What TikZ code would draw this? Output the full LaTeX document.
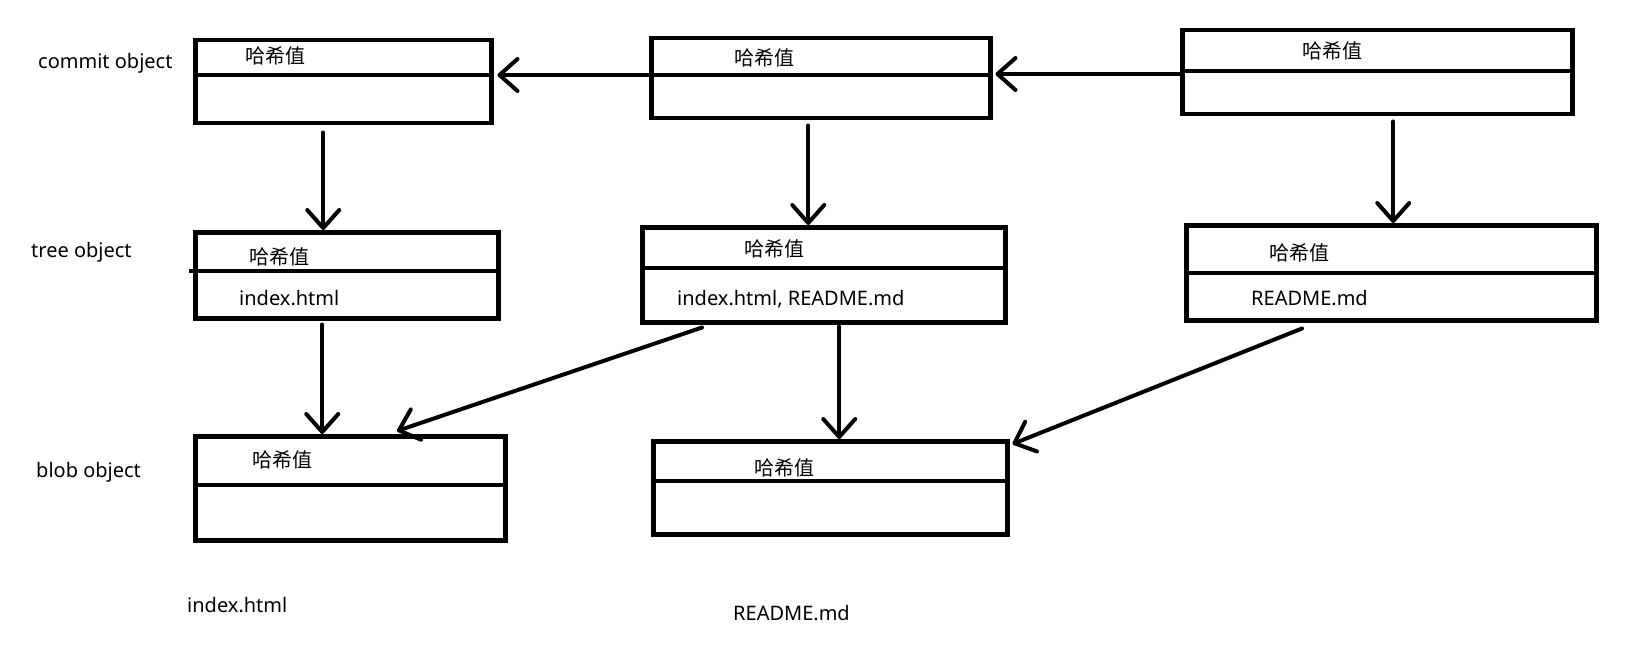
\documentclass[tikz,border=0pt]{standalone}
\usepackage{fontspec}
\setmainfont{Noto Sans}
\newfontfamily\cjk{Noto Sans CJK SC}
\usetikzlibrary{arrows.meta}

\begin{document}
\begin{tikzpicture}
[ob/.style={draw,line width=4.5pt,anchor=north west,inner sep=0pt}
,dv/.style={draw,line width=4.5pt}
,tx/.style={anchor=west,inner sep=0pt,font=\fontsize{20pt}{24pt}\selectfont}
,hv/.style={tx,font=\cjk\fontsize{20pt}{24pt}\selectfont}
,ae/.style={draw,line width=4pt,line cap=round,arrows={-Straight Barb[length=18pt,width=32pt,round]}}
,x=1pt,y=-1pt]
\useasboundingbox (0,0) rectangle (1632,647);
% commit objects
\node[ob,minimum width=296pt,minimum height=83pt] (c1) at (193,38) {};
\node[ob,minimum width=339pt,minimum height=80pt] (c2) at (649,36) {};
\node[ob,minimum width=390pt,minimum height=84pt] (c3) at (1180,28) {};
% tree objects
\node[ob,minimum width=303pt,minimum height=86pt] (t1) at (193,230) {};
\node[ob,minimum width=363pt,minimum height=95pt] (t2) at (640,225) {};
\node[ob,minimum width=410pt,minimum height=95pt] (t3) at (1184,223) {};
% blob objects
\node[ob,minimum width=310pt,minimum height=104pt] (b1) at (193,434) {};
\node[ob,minimum width=354pt,minimum height=93pt] (b2) at (651,439) {};
% dividers
\draw[dv] ([yshift=-37pt]c1.north west) -- ([yshift=-37pt]c1.north east);
\draw[dv] ([yshift=-39pt]c2.north west) -- ([yshift=-39pt]c2.north east);
\draw[dv] ([yshift=-43pt]c3.north west) -- ([yshift=-43pt]c3.north east);
\draw[dv] ([xshift=-4pt,yshift=-41pt]t1.north west) -- ([yshift=-41pt]t1.north east);
\draw[dv] ([yshift=-43pt]t2.north west) -- ([yshift=-43pt]t2.north east);
\draw[dv] ([yshift=-50pt]t3.north west) -- ([yshift=-50pt]t3.north east);
\draw[dv] ([yshift=-51pt]b1.north west) -- ([yshift=-51pt]b1.north east);
\draw[dv] ([yshift=-42pt]b2.north west) -- ([yshift=-42pt]b2.north east);
% texts
\node[hv] (h1) at (245,56) {哈希值};
\node[hv] (h2) at (734,58) {哈希值};
\node[hv] (h3) at (1302,51) {哈希值};
\node[hv] (h4) at (249,257) {哈希值};
\node[hv] (h5) at (744,249) {哈希值};
\node[hv] (h6) at (1269,253) {哈希值};
\node[hv] (h7) at (252,460) {哈希值};
\node[hv] (h8) at (754,468) {哈希值};
\node[tx] (f1) at (239,298) {index.html};
\node[tx] (f2) at (677,299) {index.html, README.md};
\node[tx] (f3) at (1251,298) {README.md};
\node[tx] (lc) at (38,63) {commit object};
\node[tx] (lt) at (31,252) {tree object};
\node[tx] (lb) at (36,472) {blob object};
\node[tx] (n1) at (187,605) {index.html};
\node[tx] (n2) at (733,613) {README.md};
% arrows
\draw[ae] ([yshift=-39pt]c2.north west) -- ([xshift=4pt,yshift=-37pt]c1.north east);
\draw[ae] ([yshift=-46pt]c3.north west) -- ([xshift=3pt,yshift=-38pt]c2.north east);
\draw[ae] ([xshift=-20pt,yshift=-7pt]c1.south) -- ([xshift=-23.5pt]t1.north);
\draw[ae] ([xshift=-12.5pt,yshift=-5pt]c2.south) -- ([xshift=-15.5pt]t2.north);
\draw[ae] ([xshift=16pt,yshift=-5pt]c3.south) -- ([xshift=2pt]t3.north);
\draw[ae] ([xshift=-24.5pt,yshift=-4pt]t1.south) -- ([xshift=-28pt]b1.north);
\draw[ae] ([xshift=15.5pt,yshift=-2pt]t2.south) -- ([xshift=9pt]b2.north);
\draw[ae] ([xshift=62pt,yshift=-3pt]t2.south west) -- ([xshift=204pt,yshift=3pt]b1.north west);
\draw[ae] ([xshift=118pt,yshift=-6pt]t3.south west) -- ([xshift=3pt,yshift=-5pt]b2.north east);
\end{tikzpicture}
\end{document}
